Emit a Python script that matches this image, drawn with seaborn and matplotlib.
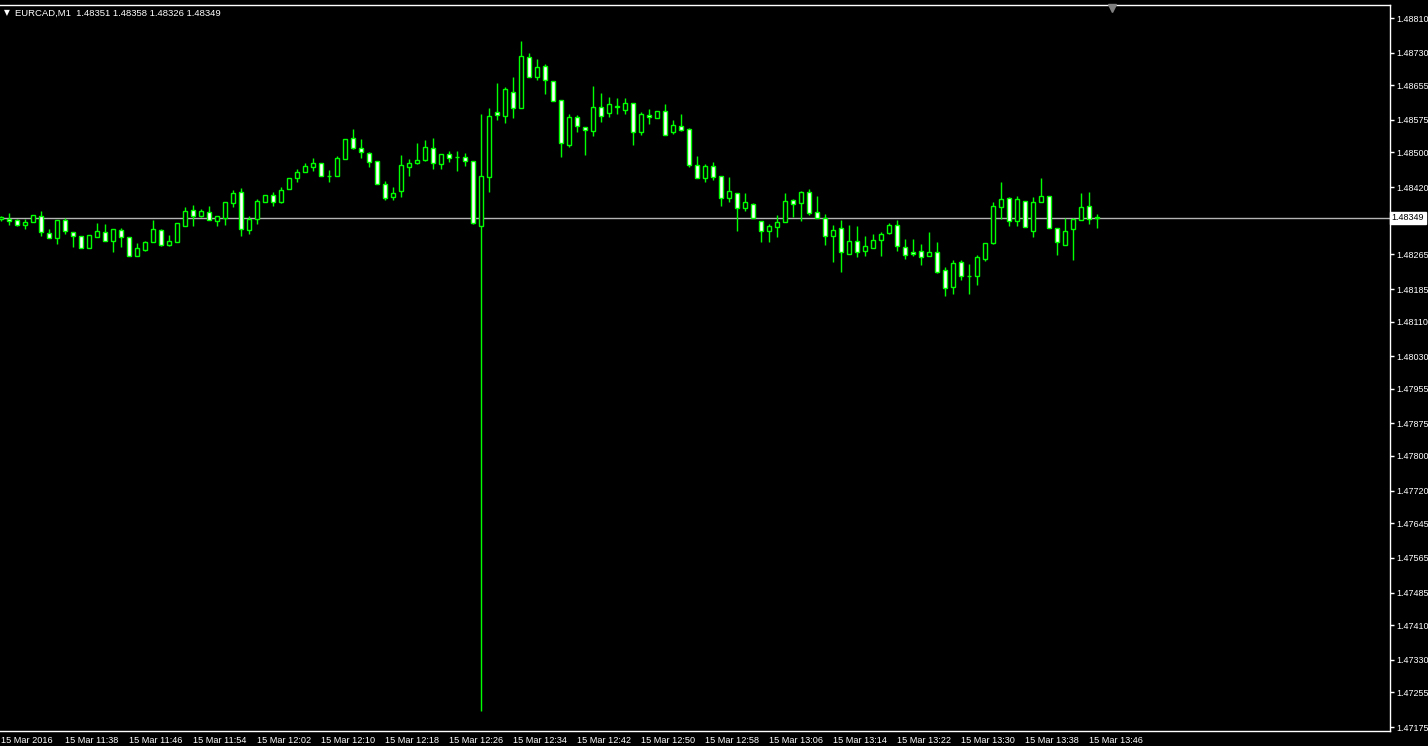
import matplotlib
matplotlib.use("Agg")
import matplotlib.pyplot as plt
import seaborn as sns
import pandas as pd
import numpy as np


# EURCAD M1 candles, 15 Mar 2016, 11:30 .. 13:47 (one per minute)
opens = [
    1.48347, 1.48347, 1.48344, 1.48333, 1.48340, 1.48354, 1.48314, 1.48303, 1.48344, 1.48317,
    1.48307, 1.48280, 1.48305, 1.48317, 1.48296, 1.48321, 1.48305, 1.48261, 1.48275, 1.48294,
    1.48321, 1.48287, 1.48294, 1.48331, 1.48367, 1.48354, 1.48363, 1.48342, 1.48349, 1.48384,
    1.48409, 1.48321, 1.48347, 1.48386, 1.48402, 1.48386, 1.48416, 1.48441, 1.48455, 1.48467,
    1.48476, 1.48446, 1.48446, 1.48485, 1.48533, 1.48510, 1.48499, 1.48480, 1.48427, 1.48397,
    1.48411, 1.48467, 1.48476, 1.48483, 1.48510, 1.48474, 1.48497, 1.48490, 1.48490, 1.48480,
    1.48331, 1.48444, 1.48593, 1.48584, 1.48640, 1.48603, 1.48720, 1.48674, 1.48700, 1.48665,
    1.48621, 1.48517, 1.48582, 1.48559, 1.48550, 1.48605, 1.48591, 1.48605, 1.48598, 1.48614,
    1.48547, 1.48587, 1.48580, 1.48596, 1.48547, 1.48561, 1.48554, 1.48471, 1.48441, 1.48469,
    1.48446, 1.48395, 1.48407, 1.48372, 1.48381, 1.48342, 1.48319, 1.48328, 1.48340, 1.48391,
    1.48384, 1.48409, 1.48363, 1.48349, 1.48307, 1.48326, 1.48266, 1.48296, 1.48273, 1.48280,
    1.48298, 1.48314, 1.48333, 1.48282, 1.48271, 1.48273, 1.48261, 1.48271, 1.48229, 1.48190,
    1.48248, 1.48215, 1.48215, 1.48254, 1.48291, 1.48374, 1.48395, 1.48342, 1.48388, 1.48319,
    1.48386, 1.48400, 1.48326, 1.48287, 1.48324, 1.48344, 1.48377, 1.48351,
]
highs = [
    1.48354, 1.48361, 1.48347, 1.48347, 1.48356, 1.48365, 1.48324, 1.48344, 1.48349, 1.48317,
    1.48307, 1.48310, 1.48337, 1.48335, 1.48324, 1.48326, 1.48305, 1.48291, 1.48296, 1.48344,
    1.48324, 1.48310, 1.48337, 1.48374, 1.48379, 1.48370, 1.48377, 1.48354, 1.48386, 1.48414,
    1.48418, 1.48354, 1.48393, 1.48402, 1.48409, 1.48421, 1.48441, 1.48462, 1.48476, 1.48487,
    1.48476, 1.48460, 1.48492, 1.48531, 1.48554, 1.48531, 1.48501, 1.48480, 1.48434, 1.48421,
    1.48494, 1.48485, 1.48522, 1.48529, 1.48533, 1.48497, 1.48503, 1.48503, 1.48499, 1.48480,
    1.48589, 1.48603, 1.48660, 1.48651, 1.48674, 1.48757, 1.48730, 1.48716, 1.48704, 1.48665,
    1.48621, 1.48589, 1.48587, 1.48559, 1.48653, 1.48637, 1.48628, 1.48626, 1.48626, 1.48614,
    1.48593, 1.48600, 1.48596, 1.48612, 1.48575, 1.48589, 1.48557, 1.48492, 1.48474, 1.48478,
    1.48446, 1.48444, 1.48407, 1.48407, 1.48384, 1.48342, 1.48335, 1.48356, 1.48407, 1.48393,
    1.48411, 1.48416, 1.48400, 1.48358, 1.48333, 1.48344, 1.48333, 1.48331, 1.48307, 1.48312,
    1.48317, 1.48337, 1.48344, 1.48301, 1.48301, 1.48289, 1.48317, 1.48294, 1.48236, 1.48252,
    1.48252, 1.48243, 1.48264, 1.48291, 1.48386, 1.48432, 1.48397, 1.48400, 1.48388, 1.48397,
    1.48441, 1.48400, 1.48326, 1.48349, 1.48349, 1.48407, 1.48409, 1.48358,
]
lows = [
    1.48342, 1.48333, 1.48331, 1.48324, 1.48340, 1.48307, 1.48303, 1.48289, 1.48312, 1.48282,
    1.48280, 1.48280, 1.48305, 1.48296, 1.48271, 1.48282, 1.48261, 1.48261, 1.48273, 1.48294,
    1.48284, 1.48284, 1.48294, 1.48331, 1.48331, 1.48351, 1.48344, 1.48331, 1.48333, 1.48374,
    1.48307, 1.48312, 1.48335, 1.48386, 1.48377, 1.48384, 1.48416, 1.48432, 1.48455, 1.48457,
    1.48446, 1.48432, 1.48446, 1.48485, 1.48508, 1.48487, 1.48467, 1.48427, 1.48391, 1.48391,
    1.48397, 1.48446, 1.48474, 1.48480, 1.48462, 1.48462, 1.48478, 1.48457, 1.48469, 1.48335,
    1.47212, 1.48409, 1.48575, 1.48568, 1.48580, 1.48603, 1.48674, 1.48667, 1.48635, 1.48619,
    1.48490, 1.48513, 1.48547, 1.48494, 1.48538, 1.48570, 1.48582, 1.48589, 1.48589, 1.48517,
    1.48540, 1.48566, 1.48580, 1.48540, 1.48543, 1.48550, 1.48467, 1.48441, 1.48432, 1.48437,
    1.48377, 1.48386, 1.48319, 1.48365, 1.48349, 1.48294, 1.48294, 1.48305, 1.48340, 1.48351,
    1.48342, 1.48356, 1.48349, 1.48287, 1.48248, 1.48224, 1.48266, 1.48259, 1.48261, 1.48280,
    1.48261, 1.48312, 1.48273, 1.48254, 1.48261, 1.48241, 1.48261, 1.48222, 1.48169, 1.48174,
    1.48206, 1.48174, 1.48194, 1.48250, 1.48289, 1.48347, 1.48331, 1.48331, 1.48328, 1.48305,
    1.48386, 1.48326, 1.48264, 1.48287, 1.48252, 1.48344, 1.48335, 1.48326,
]
closes = [
    1.48351, 1.48342, 1.48333, 1.48340, 1.48356, 1.48317, 1.48303, 1.48344, 1.48319, 1.48307,
    1.48280, 1.48310, 1.48319, 1.48296, 1.48324, 1.48305, 1.48261, 1.48280, 1.48294, 1.48324,
    1.48287, 1.48296, 1.48337, 1.48365, 1.48354, 1.48365, 1.48344, 1.48354, 1.48386, 1.48407,
    1.48324, 1.48347, 1.48388, 1.48402, 1.48386, 1.48414, 1.48441, 1.48455, 1.48469, 1.48476,
    1.48446, 1.48446, 1.48487, 1.48531, 1.48510, 1.48501, 1.48478, 1.48427, 1.48395, 1.48407,
    1.48471, 1.48476, 1.48483, 1.48513, 1.48476, 1.48497, 1.48487, 1.48489, 1.48480, 1.48337,
    1.48446, 1.48584, 1.48587, 1.48647, 1.48603, 1.48723, 1.48674, 1.48697, 1.48667, 1.48619,
    1.48522, 1.48582, 1.48561, 1.48552, 1.48605, 1.48584, 1.48612, 1.48606, 1.48614, 1.48547,
    1.48589, 1.48582, 1.48596, 1.48540, 1.48563, 1.48552, 1.48471, 1.48441, 1.48469, 1.48444,
    1.48395, 1.48411, 1.48372, 1.48386, 1.48349, 1.48319, 1.48331, 1.48340, 1.48388, 1.48381,
    1.48409, 1.48361, 1.48349, 1.48307, 1.48321, 1.48271, 1.48296, 1.48271, 1.48284, 1.48298,
    1.48312, 1.48333, 1.48284, 1.48264, 1.48266, 1.48259, 1.48271, 1.48224, 1.48188, 1.48245,
    1.48215, 1.48216, 1.48259, 1.48291, 1.48377, 1.48393, 1.48342, 1.48393, 1.48328, 1.48386,
    1.48400, 1.48326, 1.48294, 1.48319, 1.48347, 1.48374, 1.48347, 1.48349,
]

last_price = 1.48349
header = "EURCAD,M1  1.48351 1.48358 1.48326 1.48349"

time_labels = [
    "15 Mar 2016", "15 Mar 11:38", "15 Mar 11:46", "15 Mar 11:54", "15 Mar 12:02",
    "15 Mar 12:10", "15 Mar 12:18", "15 Mar 12:26", "15 Mar 12:34", "15 Mar 12:42",
    "15 Mar 12:50", "15 Mar 12:58", "15 Mar 13:06", "15 Mar 13:14", "15 Mar 13:22",
    "15 Mar 13:30", "15 Mar 13:38", "15 Mar 13:46",
]
price_labels = [
    "1.48810", "1.48730", "1.48655", "1.48575", "1.48500", "1.48420", "1.48265",
    "1.48185", "1.48110", "1.48030", "1.47955", "1.47875", "1.47800", "1.47720",
    "1.47645", "1.47565", "1.47485", "1.47410", "1.47330", "1.47255", "1.47175",
]

df = pd.DataFrame({"open": opens, "high": highs, "low": lows, "close": closes})
df["bar"] = np.arange(len(df))
df["bull"] = df["close"] >= df["open"]

sns.set_theme(style="dark", rc={
    "axes.facecolor": "black",
    "figure.facecolor": "black",
    "axes.edgecolor": "white",
    "xtick.color": "white",
    "ytick.color": "white",
})
plt.rcParams["font.family"] = ["Liberation Sans", "DejaVu Sans"]

green = "#00ff00"

fig = plt.figure(figsize=(14.28, 7.46), dpi=100)
ax = fig.add_axes([0, 15 / 746, 1390 / 1428, 726 / 746])

# current price line (behind candles)
ax.axhline(last_price, color="#b4b4b4", lw=1, zorder=1)

# wicks
ax.vlines(df["bar"], df["low"], df["high"], color=green, lw=1, zorder=2)

# bodies: bull = black, bear = white, lime outline
body_bottom = df[["open", "close"]].min(axis=1)
body_height = (df["close"] - df["open"]).abs()
face = np.where(df["bull"], "black", "white")
ax.bar(df["bar"], body_height, bottom=body_bottom, width=0.55,
       color=face, edgecolor=green, linewidth=1, zorder=3)

# 8 px per candle, plot area 1390 px wide
ax.set_xlim(-0.1, 173.65)
ax.set_ylim(1.471658, 1.488400)

ax.set_xticks(np.arange(0, 8 * len(time_labels), 8))
ax.set_xticklabels(time_labels, ha="left", fontsize=6.6)
ax.tick_params(axis="x", direction="out", length=3, width=1, pad=0.5, colors="white")

ax.yaxis.tick_right()
ax.set_yticks([float(s) for s in price_labels])
ax.set_yticklabels(price_labels, fontsize=6.5)
ax.tick_params(axis="y", direction="out", length=3, width=1, pad=1.2, colors="white")

for side in ["top", "right", "bottom"]:
    ax.spines[side].set_color("white")
    ax.spines[side].set_linewidth(1)
ax.spines["left"].set_visible(False)
ax.grid(False)

# current price tag on the price scale
ax.text(1.0012, last_price, f"{last_price:.5f}", transform=ax.get_yaxis_transform(),
        ha="left", va="center", fontsize=6.5, color="black",
        bbox=dict(facecolor="white", edgecolor="white", pad=1.0), clip_on=False)

# chart shift marker
ax.plot(138.9, 1.48834, marker="v", color="#808080", ms=6, clip_on=False, zorder=4)

# header
fig.text(4 / 1428, 1 - 13 / 746, "\u25bc", fontsize=5.5, color="white",
         ha="left", va="center", family="DejaVu Sans")
fig.text(15 / 1428, 1 - 13 / 746, header, fontsize=6.8, color="white",
         ha="left", va="center")

fig.savefig("out.png", dpi=100, facecolor="black")
